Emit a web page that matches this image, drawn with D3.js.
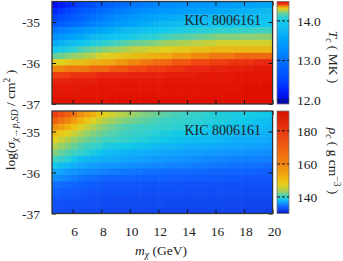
<!DOCTYPE html>
<html lang="en">
<head>
<meta charset="UTF-8">
<title>KIC 8006161 central temperature and density</title>
<script src="https://d3js.org/d3.v7.min.js"></script>
<style>
  body { margin: 0; background: #fff; }
  text { font-family: "Liberation Serif", "DejaVu Serif", serif; fill: #222; }
</style>
</head>
<body>
<svg width="343" height="261"></svg>
<script>
// WIMP mass grid (GeV), cell centres
const masses = [4.77, 5.21, 5.65, 6.10, 6.54, 6.98, 7.42, 7.86, 8.30, 8.75, 9.19, 9.63, 10.07, 10.51, 10.95,
  11.40, 11.84, 12.28, 12.72, 13.16, 13.60, 14.05, 14.49, 14.93, 15.37, 15.81, 16.25, 16.70, 17.14, 17.58,
  18.02, 18.46, 18.90, 19.35, 19.79];
// log cross-section grid, top row first
const logSigma = [-34.58, -34.73, -34.89, -35.05, -35.20, -35.36, -35.52, -35.67, -35.83, -35.98,
  -36.14, -36.30, -36.45, -36.61, -36.77, -36.92];

const xTicks = [6, 8, 10, 12, 14, 16, 18, 20];
const yTicks = [-35, -36, -37];
const tcTicks = [12.0, 13.0, 14.0];
const rhoTicks = [140, 160, 180];
const starName = "KIC 8006161";

// central temperature T_c (MK), rows = logSigma, cols = masses
const tc = [
  [12.10,12.20,12.30,12.40,12.48,12.56,12.64,12.72,12.80,12.86,12.92,12.98,13.03,13.08,13.13,13.17,13.21,13.25,13.27,13.29,13.31,13.33,13.35,13.37,13.38,13.39,13.40,13.43,13.46,13.48,13.51,13.53,13.55,13.58,13.60],
  [12.30,12.40,12.50,12.60,12.68,12.76,12.84,12.92,13.00,13.05,13.10,13.15,13.20,13.24,13.28,13.32,13.36,13.40,13.42,13.44,13.46,13.48,13.50,13.52,13.54,13.56,13.60,13.62,13.64,13.66,13.68,13.70,13.72,13.74,13.75],
  [12.45,12.55,12.65,12.75,12.84,12.92,13.00,13.08,13.15,13.21,13.27,13.33,13.38,13.43,13.48,13.52,13.56,13.60,13.62,13.64,13.66,13.68,13.70,13.72,13.73,13.74,13.75,13.76,13.78,13.79,13.80,13.82,13.83,13.84,13.85],
  [12.70,12.78,12.86,12.94,13.02,13.10,13.17,13.24,13.30,13.36,13.42,13.48,13.54,13.59,13.63,13.67,13.71,13.75,13.77,13.79,13.81,13.83,13.85,13.86,13.87,13.88,13.90,13.91,13.91,13.92,13.92,13.93,13.94,13.94,13.95],
  [13.05,13.13,13.20,13.27,13.34,13.41,13.48,13.54,13.60,13.65,13.70,13.75,13.79,13.83,13.86,13.89,13.92,13.95,13.97,13.99,14.01,14.03,14.05,14.06,14.07,14.08,14.10,14.10,14.10,14.11,14.11,14.11,14.12,14.12,14.12],
  [13.30,13.38,13.46,13.54,13.61,13.68,13.74,13.80,13.85,13.89,13.93,13.97,14.00,14.03,14.06,14.08,14.10,14.12,14.14,14.15,14.16,14.17,14.18,14.19,14.20,14.21,14.22,14.22,14.22,14.22,14.23,14.23,14.23,14.23,14.23],
  [13.60,13.68,13.76,13.84,13.91,13.97,14.02,14.06,14.10,14.12,14.14,14.16,14.18,14.19,14.20,14.21,14.22,14.24,14.25,14.25,14.26,14.26,14.27,14.27,14.28,14.28,14.29,14.29,14.29,14.29,14.29,14.29,14.29,14.29,14.29],
  [13.95,14.00,14.05,14.10,14.14,14.17,14.19,14.21,14.23,14.24,14.25,14.26,14.27,14.28,14.28,14.29,14.29,14.30,14.30,14.31,14.31,14.31,14.32,14.32,14.32,14.33,14.33,14.33,14.33,14.33,14.33,14.33,14.33,14.33,14.33],
  [14.18,14.20,14.22,14.24,14.25,14.26,14.27,14.29,14.30,14.31,14.31,14.32,14.32,14.33,14.33,14.34,14.34,14.35,14.35,14.36,14.36,14.36,14.37,14.37,14.37,14.38,14.38,14.38,14.38,14.39,14.39,14.39,14.39,14.39,14.39],
  [14.30,14.30,14.31,14.32,14.32,14.33,14.34,14.34,14.35,14.35,14.36,14.36,14.37,14.37,14.38,14.38,14.39,14.39,14.39,14.40,14.40,14.40,14.41,14.41,14.41,14.42,14.42,14.42,14.43,14.43,14.43,14.43,14.44,14.44,14.44],
  [14.37,14.37,14.38,14.38,14.38,14.38,14.39,14.39,14.39,14.40,14.40,14.40,14.41,14.41,14.41,14.42,14.42,14.42,14.43,14.43,14.43,14.44,14.44,14.44,14.44,14.45,14.45,14.45,14.46,14.46,14.46,14.46,14.47,14.47,14.47],
  [14.42,14.42,14.42,14.43,14.43,14.43,14.43,14.44,14.44,14.44,14.44,14.44,14.45,14.45,14.45,14.45,14.45,14.45,14.46,14.46,14.46,14.46,14.46,14.47,14.47,14.47,14.47,14.47,14.47,14.48,14.48,14.48,14.48,14.48,14.48],
  [14.45,14.45,14.45,14.46,14.46,14.46,14.46,14.47,14.47,14.47,14.47,14.47,14.47,14.47,14.47,14.47,14.47,14.47,14.48,14.48,14.48,14.48,14.48,14.48,14.48,14.48,14.48,14.48,14.48,14.49,14.49,14.49,14.49,14.49,14.49],
  [14.47,14.47,14.47,14.47,14.47,14.48,14.48,14.48,14.48,14.48,14.48,14.48,14.48,14.48,14.48,14.48,14.48,14.48,14.49,14.49,14.49,14.49,14.49,14.49,14.49,14.49,14.49,14.49,14.49,14.49,14.50,14.50,14.50,14.50,14.50],
  [14.48,14.48,14.48,14.48,14.48,14.48,14.48,14.48,14.48,14.49,14.49,14.49,14.49,14.49,14.49,14.49,14.49,14.49,14.49,14.49,14.49,14.49,14.49,14.49,14.49,14.49,14.49,14.50,14.50,14.50,14.50,14.50,14.50,14.50,14.50],
  [14.49,14.49,14.49,14.49,14.49,14.49,14.49,14.49,14.49,14.50,14.50,14.50,14.50,14.50,14.50,14.50,14.50,14.50,14.50,14.50,14.50,14.50,14.50,14.50,14.50,14.50,14.50,14.50,14.50,14.50,14.50,14.50,14.50,14.50,14.50]
];

// central density rho_c (g cm^-3), same grid
const rho = [
  [178,174,170,164,158,155,152,149.5,147,146,145,144,143.5,143,142.5,142.2,141.8,141.5,141.2,140.8,140.5,140.2,140,139.8,139.5,139.2,139,139,138.9,138.8,138.8,138.7,138.6,138.6,138.5],
  [170,165,161,156,152,149.5,147,145.5,144,143.5,143,142.5,142.2,141.8,141.5,141.2,140.8,140.5,140.3,140,139.8,139.6,139.5,139.4,139.2,139.1,139,138.9,138.7,138.6,138.5,138.4,138.2,138.1,138],
  [158,155,152,149.5,147,145.5,144,143.2,142.5,142,141.5,141,140.8,140.5,140.3,140.1,139.9,139.8,139.6,139.4,139.3,139.1,139,138.9,138.7,138.6,138.5,138.4,138.3,138.2,138.1,138,137.9,137.9,137.8],
  [150,148.5,147,145.5,144,143.2,142.5,142,141.5,141.1,140.8,140.5,140.2,139.9,139.7,139.4,139.2,139,138.9,138.7,138.6,138.5,138.4,138.3,138.2,138.1,138,137.9,137.9,137.8,137.7,137.7,137.6,137.6,137.5],
  [147,145.5,144,143.2,142.5,142,141.5,141,140.5,140.3,140,139.8,139.5,139.3,139.1,138.9,138.7,138.5,138.4,138.3,138.2,138.1,138,138,137.9,137.9,137.8,137.7,137.6,137.5,137.5,137.4,137.3,137.3,137.2],
  [144,143.2,142.5,141.7,141,140.5,140,139.5,139,138.8,138.7,138.6,138.5,138.3,138.2,138.1,137.9,137.8,137.7,137.7,137.6,137.5,137.5,137.4,137.3,137.3,137.2,137.1,137.1,137,137,136.9,136.9,136.8,136.8],
  [142.5,141.7,141,140.4,139.8,139.3,138.8,138.4,138,137.9,137.8,137.7,137.6,137.5,137.4,137.3,137.3,137.2,137.1,137,136.9,136.8,136.8,136.7,136.6,136.6,136.5,136.4,136.3,136.3,136.2,136.1,136.1,136,136],
  [140.5,140,139.3,138.6,138,137.8,137.7,137.6,137.5,137.4,137.3,137.2,137.1,136.9,136.8,136.7,136.6,136.5,136.4,136.3,136.2,136.1,136,135.9,135.7,135.6,135.5,135.5,135.4,135.4,135.3,135.3,135.3,135.2,135.2],
  [138.5,138.1,137.8,137.5,137.2,137,136.8,136.6,136.5,136.4,136.3,136.2,136,135.9,135.8,135.7,135.6,135.5,135.4,135.3,135.3,135.2,135.1,135,135,134.9,134.8,134.8,134.7,134.7,134.6,134.6,134.6,134.5,134.5],
  [137.2,136.9,136.6,136.3,136,135.8,135.6,135.4,135.2,135.1,135,134.9,134.8,134.8,134.7,134.6,134.6,134.5,134.5,134.4,134.4,134.4,134.3,134.3,134.3,134.2,134.2,134.2,134.1,134.1,134.1,134.1,134,134,134],
  [136,135.7,135.4,135.1,134.8,134.6,134.5,134.3,134.2,134.2,134.1,134.1,134.1,134,134,134,134,134,133.9,133.9,133.9,133.8,133.8,133.8,133.7,133.7,133.6,133.6,133.6,133.6,133.5,133.5,133.5,133.5,133.5],
  [134.5,134.4,134.3,134.1,134,133.9,133.7,133.6,133.5,133.5,133.4,133.4,133.4,133.3,133.3,133.3,133.2,133.2,133.2,133.2,133.1,133.1,133.1,133.1,133.1,133.1,133,133,133,133,133,133,133,133,133],
  [134,133.9,133.8,133.7,133.6,133.5,133.4,133.3,133.2,133.2,133.1,133.1,133.1,133,133,133,133,133,133,133,133,132.9,132.9,132.9,132.9,132.9,132.9,132.9,132.9,132.8,132.8,132.8,132.8,132.8,132.8],
  [133.5,133.4,133.3,133.2,133.1,133,132.9,132.8,132.8,132.7,132.7,132.7,132.7,132.7,132.7,132.7,132.7,132.7,132.6,132.6,132.6,132.6,132.6,132.6,132.6,132.6,132.6,132.5,132.5,132.5,132.5,132.5,132.5,132.5,132.5],
  [133,133,132.9,132.9,132.8,132.8,132.7,132.7,132.7,132.6,132.6,132.6,132.6,132.6,132.6,132.6,132.6,132.6,132.5,132.5,132.5,132.5,132.5,132.5,132.5,132.5,132.5,132.4,132.4,132.4,132.4,132.3,132.3,132.3,132.3],
  [132.8,132.8,132.7,132.7,132.6,132.6,132.5,132.5,132.5,132.4,132.4,132.4,132.4,132.4,132.4,132.4,132.4,132.4,132.3,132.3,132.3,132.3,132.3,132.3,132.3,132.3,132.3,132.2,132.2,132.2,132.1,132.1,132.1,132,132]
];

// colour maps (jet-like, stretched like the original colorbars)
const tcColor = d3.scaleLinear()
  .domain([11.9, 12.0, 12.1, 12.3, 12.45, 12.7, 13.0, 13.3, 13.6, 13.75, 13.95, 14.1, 14.2, 14.25, 14.3, 14.35, 14.38, 14.41, 14.44, 14.47, 14.5])
  .range(["#000090", "#0010d8", "#0010f0", "#0028ff", "#0040ff", "#0058ff", "#0070ff", "#0090ff", "#00a8f8", "#10b8f0",
          "#10c8f0", "#30d0d0", "#70d090", "#a0d060", "#e0d020", "#f0a810", "#f07810", "#f04810", "#e82810", "#e41808", "#e01000"])
  .clamp(true);
const rhoColor = d3.scaleLinear()
  .domain([130, 132, 133, 134, 135.2, 136.5, 137.5, 138.5, 139.5, 140.5, 141.5, 142.5, 144, 147, 150, 152, 158, 161, 170, 178, 192])
  .range(["#0818b0", "#1040e8", "#1050f8", "#1060ff", "#1080ff", "#1098ff", "#10b0f8", "#10c8e8", "#30d0d0", "#40d0c0",
          "#60d0a0", "#80d080", "#b0d050", "#e0d020", "#f0c010", "#f0b010", "#f09010", "#f08010", "#f06010", "#e84010", "#d81000"])
  .clamp(true);

const svg = d3.select("svg");
const x = d3.scaleLinear().domain([4.55, 20]).range([52, 272.6]);
const cbX = 277, cbW = 12;

function edges(c) {
  const e = [];
  e.push(c[0] - (c[1] - c[0]) / 2);
  for (let i = 1; i < c.length; i++) e.push((c[i - 1] + c[i]) / 2);
  e.push(c[c.length - 1] + (c[c.length - 1] - c[c.length - 2]) / 2);
  return e;
}
const xe = edges(masses), ye = edges(logSigma);

const panels = [
  { top: 1.5, bottom: 104, data: tc, color: tcColor, cb: [11.9, 14.49], ticks: tcTicks, fmt: d3.format(".1f"), last: false },
  { top: 111, bottom: 213.5, data: rho, color: rhoColor, cb: [130, 192], ticks: rhoTicks, fmt: d3.format("d"), last: true }
];

panels.forEach((p, pi) => {
  const y = d3.scaleLinear().domain([-37, -34.5]).range([p.bottom, p.top]);
  const g = svg.append("g");

  g.append("clipPath").attr("id", "clip" + pi)
    .append("rect").attr("x", x.range()[0]).attr("y", p.top)
    .attr("width", x.range()[1] - x.range()[0]).attr("height", p.bottom - p.top);

  const cells = [];
  p.data.forEach((row, r) => row.forEach((v, c) => cells.push({ r, c, v })));
  g.append("g").attr("clip-path", `url(#clip${pi})`)
    .selectAll("rect").data(cells).join("rect")
    .attr("x", d => x(xe[d.c]))
    .attr("y", d => y(ye[d.r]))
    .attr("width", d => x(xe[d.c + 1]) - x(xe[d.c]) + 0.6)
    .attr("height", d => y(ye[d.r + 1]) - y(ye[d.r]) + 0.6)
    .attr("fill", d => p.color(d.v));

  // axes, ticks pointing inwards on all four sides
  const axB = g.append("g").attr("transform", `translate(0,${p.bottom})`)
    .call(d3.axisBottom(x).tickValues(xTicks).tickSize(-4).tickPadding(13)
      .tickFormat(p.last ? d => String(d) : () => ""));
  const axT = g.append("g").attr("transform", `translate(0,${p.top})`)
    .call(d3.axisTop(x).tickValues(xTicks).tickSize(-4).tickFormat(() => ""));
  const axL = g.append("g").attr("transform", `translate(${x.range()[0]},0)`)
    .call(d3.axisLeft(y).tickValues(yTicks).tickSize(-4).tickPadding(12).tickFormat(d => String(d)));
  const axR = g.append("g").attr("transform", `translate(${x.range()[1]},0)`)
    .call(d3.axisRight(y).tickValues(yTicks).tickSize(-4).tickFormat(() => ""));
  [axB, axT, axL, axR].forEach(a => {
    a.attr("font-size", 13.5).attr("color", "#111");
    a.select(".domain").remove();
  });
  axB.selectAll("text").attr("dx", 1.5);
  axL.selectAll("text").attr("dy", "0.36em");

  g.append("rect").attr("x", x.range()[0]).attr("y", p.top)
    .attr("width", x.range()[1] - x.range()[0]).attr("height", p.bottom - p.top)
    .attr("fill", "none").attr("stroke", "#333").attr("stroke-width", 1.3);

  g.append("text").attr("x", 261).attr("y", p.top + 23.5)
    .attr("text-anchor", "end").attr("font-size", 14).text(starName);

  // colorbar
  const cy = d3.scaleLinear().domain(p.cb).range([p.bottom, p.top]);
  const grad = svg.append("defs").append("linearGradient").attr("id", "grad" + pi)
    .attr("x1", 0).attr("y1", 1).attr("x2", 0).attr("y2", 0);
  d3.range(0, 1.0001, 1 / 120).forEach(t => {
    grad.append("stop").attr("offset", t)
      .attr("stop-color", p.color(p.cb[0] + t * (p.cb[1] - p.cb[0])));
  });
  g.append("rect").attr("x", cbX).attr("y", p.top).attr("width", cbW).attr("height", p.bottom - p.top)
    .attr("fill", `url(#grad${pi})`).attr("stroke", "#777").attr("stroke-width", 0.8);
  p.ticks.forEach(t => {
    g.append("line").attr("x1", cbX).attr("x2", cbX + cbW).attr("y1", cy(t)).attr("y2", cy(t))
      .attr("stroke", "#111").attr("stroke-width", 1).attr("stroke-dasharray", "3,2");
    g.append("text").attr("x", 297).attr("y", cy(t)).attr("dy", "0.36em")
      .attr("font-size", 13.5).text(p.fmt(t));
  });
});

// colorbar labels
const lab1 = svg.append("text").attr("transform", "translate(329,57) rotate(90)")
  .attr("text-anchor", "middle").attr("font-size", 13.5);
lab1.append("tspan").attr("font-style", "italic").text("T");
lab1.append("tspan").attr("font-style", "italic").attr("font-size", 9.5).attr("dy", 3).text("c");
lab1.append("tspan").attr("dy", -3).text(" ( MK )");

const lab2 = svg.append("text").attr("transform", "translate(329,161) rotate(90)")
  .attr("text-anchor", "middle").attr("font-size", 13.5);
lab2.append("tspan").attr("font-style", "italic").text("ρ");
lab2.append("tspan").attr("font-style", "italic").attr("font-size", 9.5).attr("dy", 3).text("c");
lab2.append("tspan").attr("dy", -3).text(" ( g cm");
lab2.append("tspan").attr("font-size", 9.5).attr("dy", -5).text("−3");
lab2.append("tspan").attr("dy", 5).text(" )");

// axis titles
const xl = svg.append("text").attr("x", 161).attr("y", 255)
  .attr("text-anchor", "middle").attr("font-size", 13.5);
xl.append("tspan").attr("font-style", "italic").text("m");
xl.append("tspan").attr("font-style", "italic").attr("font-size", 9.5).attr("dy", 3).text("χ");
xl.append("tspan").attr("dy", -3).text(" (GeV)");

const yl = svg.append("text").attr("transform", "translate(15,120) rotate(-90)")
  .attr("text-anchor", "middle").attr("font-size", 13.5);
yl.append("tspan").text("log(");
yl.append("tspan").attr("font-style", "italic").text("σ");
yl.append("tspan").attr("font-style", "italic").attr("font-size", 9.5).attr("dy", 3).text("χ→p,SD");
yl.append("tspan").attr("dy", -3).text(" / cm");
yl.append("tspan").attr("font-size", 9.5).attr("dy", -5).text("2");
yl.append("tspan").attr("dy", 5).text(" )");
</script>
</body>
</html>
